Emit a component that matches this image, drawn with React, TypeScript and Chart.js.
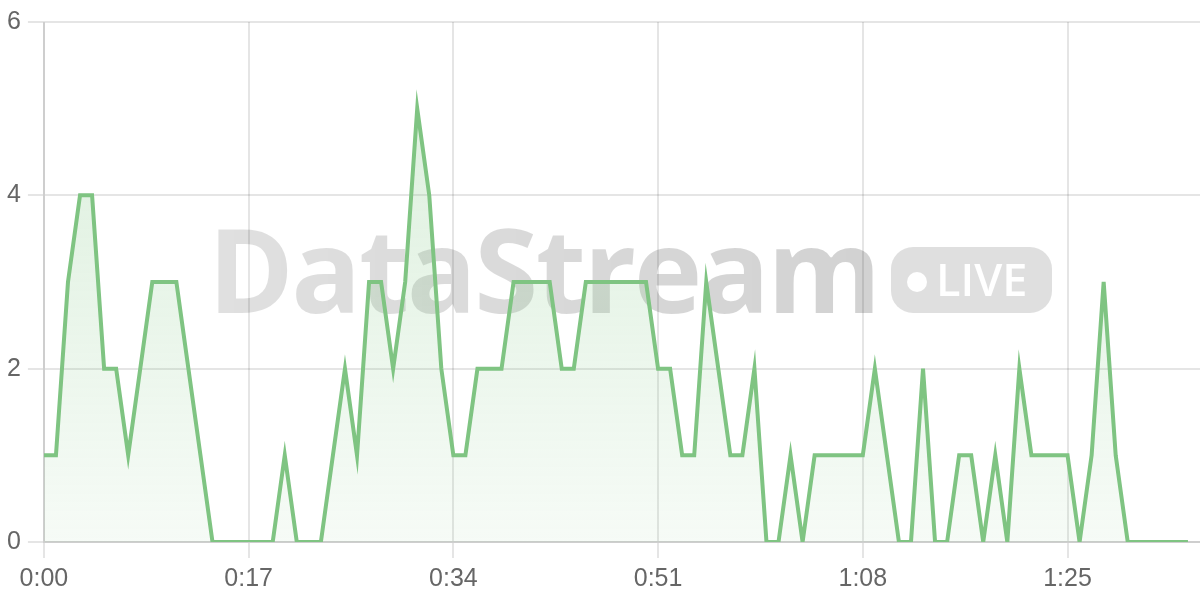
import { useEffect, useRef } from "react";
import { Chart, registerables } from "chart.js";

Chart.register(...registerables);

// one reading per second, 0:00 .. 1:35
const counts = [
  1, 1, 3, 4, 4, 2, 2, 1, 2, 3, 3, 3, 2, 1, 0, 0, 0, 0, 0, 0,
  1, 0, 0, 0, 1, 2, 1, 3, 3, 2, 3, 5, 4, 2, 1, 1, 2, 2, 2, 3,
  3, 3, 3, 2, 2, 3, 3, 3, 3, 3, 3, 2, 2, 1, 1, 3, 2, 1, 1, 2,
  0, 0, 1, 0, 1, 1, 1, 1, 1, 2, 1, 0, 0, 2, 0, 0, 1, 1, 0, 1,
  0, 2, 1, 1, 1, 1, 0, 1, 3, 1, 0, 0, 0, 0, 0, 0,
];
const xTickLabels = ["0:00", "0:17", "0:34", "0:51", "1:08", "1:25"];
const xTickStep = 17;
const yMax = 6;
const yTickStep = 2;

const LINE = "#7fc482";
const TICK_FONT = { family: "'Liberation Sans', Arial, sans-serif", size: 25 };

const watermark = {
  id: "watermark",
  beforeDatasetsDraw(chart) {
    const { ctx } = chart;
    ctx.save();
    ctx.font = "700 116px 'Open Sans'";
    ctx.textBaseline = "alphabetic";
    ctx.letterSpacing = "-2.5px";
    const g = ctx.createLinearGradient(210, 0, 870, 0);
    g.addColorStop(0, "rgba(0,0,0,0.12)");
    g.addColorStop(1, "rgba(0,0,0,0.175)");
    ctx.fillStyle = g;
    ctx.fillText("DataStream", 208, 313);

    ctx.letterSpacing = "0px";
    ctx.fillStyle = "rgba(0,0,0,0.125)";
    ctx.beginPath();
    ctx.roundRect(891, 247, 161, 66, 22);
    ctx.fill();
    ctx.fillStyle = "#fff";
    ctx.beginPath();
    ctx.arc(917, 282, 10, 0, Math.PI * 2);
    ctx.fill();
    ctx.font = "600 45px 'Open Sans'";
    ctx.fillText("LIVE", 936, 296);
    ctx.restore();
  },
};

export default function App() {
  const canvasRef = useRef<HTMLCanvasElement>(null);
  const chartRef = useRef<Chart | null>(null);

  useEffect(() => {
    if (!canvasRef.current) return;
    document.body.style.margin = "0";

    chartRef.current = new Chart(canvasRef.current, {
      type: "line",
      data: {
        datasets: [
          {
            data: counts.map((v, i) => ({ x: i, y: v })),
            borderColor: LINE,
            borderWidth: 4,
            pointRadius: 0,
            tension: 0,
            fill: "origin",
            backgroundColor: (c) => {
              const area = c.chart.chartArea;
              if (!area) return "rgba(129,199,132,0.15)";
              const g = c.chart.ctx.createLinearGradient(0, area.top, 0, area.bottom);
              g.addColorStop(0, "rgba(129,199,132,0.3)");
              g.addColorStop(1, "rgba(129,199,132,0.07)");
              return g;
            },
          },
        ],
      },
      options: {
        responsive: false,
        animation: false,
        devicePixelRatio: 1,
        layout: { padding: { left: 0, top: 4, right: 0, bottom: 0 } },
        plugins: {
          legend: { display: false },
          tooltip: { enabled: false },
        },
        scales: {
          x: {
            type: "linear",
            min: 0,
            max: counts.length,
            grid: { lineWidth: 2, tickLength: 16 },
            border: { width: 2 },
            ticks: {
              stepSize: xTickStep,
              includeBounds: false,
              maxRotation: 0,
              padding: 6,
              color: "#666",
              font: TICK_FONT,
              callback: (v, i) => xTickLabels[i] ?? "",
            },
          },
          y: {
            min: 0,
            max: yMax,
            grid: { lineWidth: 2, tickLength: 16 },
            border: { width: 2 },
            ticks: {
              stepSize: yTickStep,
              padding: 7,
              color: "#666",
              font: TICK_FONT,
            },
          },
        },
      },
      plugins: [watermark],
    });

    return () => chartRef.current?.destroy();
  }, []);

  return (
    <div style={{ position: "absolute", left: 0, top: 0, width: 1200, height: 600 }}>
      <canvas ref={canvasRef} width={1200} height={600} />
    </div>
  );
}
